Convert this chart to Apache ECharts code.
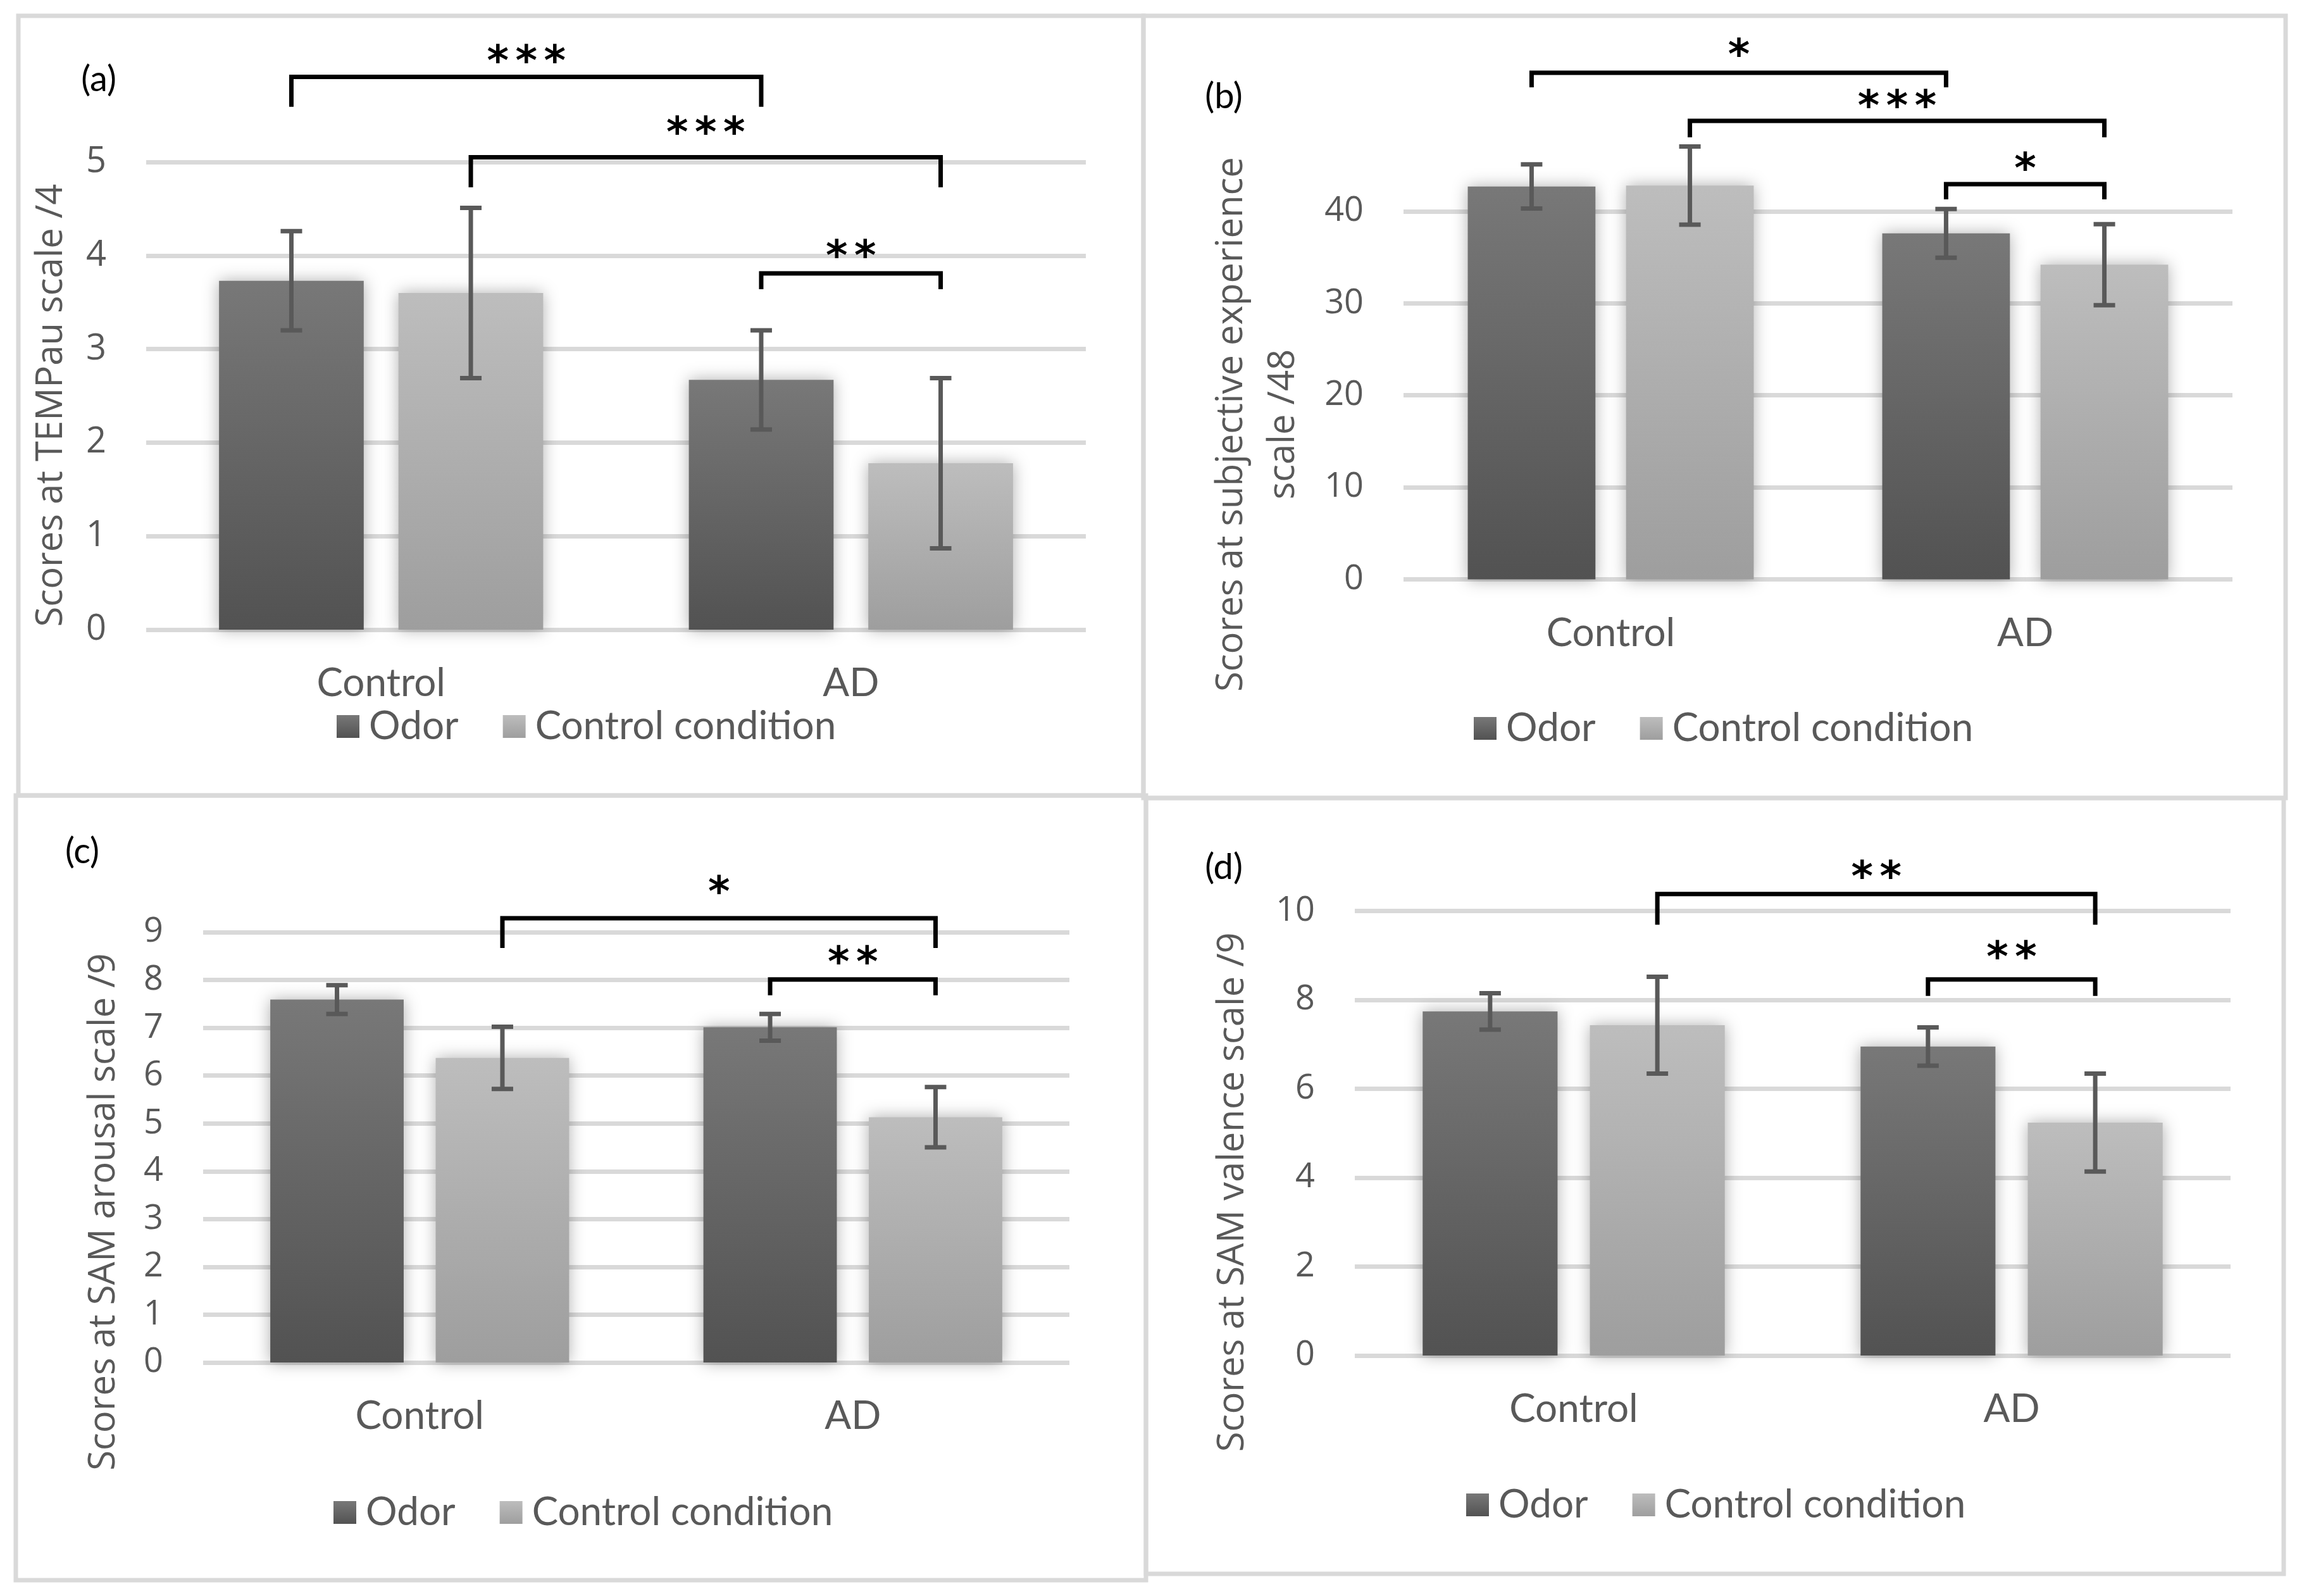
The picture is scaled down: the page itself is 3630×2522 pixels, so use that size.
<!DOCTYPE html>
<html><head><meta charset="utf-8">
<script src="https://cdn.jsdelivr.net/npm/echarts@6/dist/echarts.min.js"></script>
<style>html,body{margin:0;padding:0;background:#fff}#c{width:3630px;height:2522px}</style>
</head><body><div id="c"></div>
<script>
// ---------------- data ----------------
const categories = ['Control', 'AD'];
const seriesNames = ['Odor', 'Control condition'];
const panelLabels = ['(a)', '(b)', '(c)', '(d)'];
const yTitles = ['Scores at TEMPau scale /4', 'Scores at subjective experience\nscale /48', 'Scores at SAM arousal scale /9', 'Scores at SAM valence scale /9'];
const yMax = [5, 48, 9, 10];
const yInterval = [1, 10, 1, 2];

// (a) TEMPau
const odorA = [3.73, 2.67];
const condA = [3.60, 1.78];
const odorErrA = [0.53, 0.53];
const condErrA = [0.91, 0.91];
// (b) subjective experience
const odorB = [42.7, 37.6];
const condB = [42.8, 34.2];
const odorErrB = [2.4, 2.65];
const condErrB = [4.25, 4.4];
// (c) SAM arousal
const odorC = [7.59, 7.01];
const condC = [6.37, 5.13];
const odorErrC = [0.30, 0.28];
const condErrC = [0.65, 0.63];
// (d) SAM valence
const odorD = [7.74, 6.95];
const condD = [7.43, 5.24];
const odorErrD = [0.41, 0.43];
const condErrD = [1.09, 1.10];

// significance brackets: [fromCat, fromSeries, toCat, toSeries, lineY, legEndY, starY]
const bracketsA = [[0, 0, 1, 0, 5.91, 5.59, 6.15], [0, 1, 1, 1, 5.05, 4.73, 5.39], [1, 0, 1, 1, 3.81, 3.64, 4.07]];
const starsA = ['***', '***', '**'];
const bracketsB = [[0, 0, 1, 0, 55.05, 53.47, 57.74], [0, 1, 1, 1, 49.83, 48.04, 52.17], [1, 0, 1, 1, 42.95, 41.30, 45.36]];
const starsB = ['*', '***', '*'];
const bracketsC = [[0, 1, 1, 1, 9.29, 8.67, 9.98], [1, 0, 1, 1, 8.01, 7.68, 8.51]];
const starsC = ['*', '**'];
const bracketsD = [[0, 1, 1, 1, 10.38, 9.69, 10.92], [1, 0, 1, 1, 8.46, 8.09, 9.12]];
const starsD = ['**', '**'];

// ---------------- layout / style ----------------
const panels = [
  { odor: odorA, cond: condA, odorErr: odorErrA, condErr: condErrA, br: bracketsA, st: starsA,
    grid: { left: 231, top: 256, width: 1485, height: 739 },
    border: [29, 25, 1778, 1232], label: [156, 126], legend: [532, 1147],
    nameGap: 115, nameLH: 70, nameShift: 15, tickFs: 56 },
  { odor: odorB, cond: condB, odorErr: odorErrB, condErr: condErrB, br: bracketsB, st: starsB,
    grid: { left: 2218, top: 217.6, width: 1310, height: 697.9 },
    border: [1807, 25, 1805, 1236], label: [1934, 153], legend: [2329, 1150],
    nameGap: 149, nameLH: 82, nameShift: 104, tickFs: 54 },
  { odor: odorC, cond: condC, odorErr: odorErrC, condErr: condErrC, br: bracketsC, st: starsC,
    grid: { left: 321, top: 1473, width: 1369, height: 680 },
    border: [25, 1257, 1786, 1240], label: [130, 1346], legend: [527, 2389],
    nameGap: 122, nameLH: 70, nameShift: 102, tickFs: 54 },
  { odor: odorD, cond: condD, odorErr: odorErrD, condErr: condErrD, br: bracketsD, st: starsD,
    grid: { left: 2141, top: 1439.5, width: 1384, height: 702.5 },
    border: [1811, 1261, 1798, 1226], label: [1934, 1371], legend: [2317, 2377],
    nameGap: 158, nameLH: 70, nameShift: 93, tickFs: 54 }
];

const BAR_W = 0.308;
const BAR_GAP = 0.24;
const SIDE_OFF = (BAR_W + BAR_W * BAR_GAP) / 2;
const GRID_COLOR = '#D9D9D9';
const TEXT_COLOR = '#595959';
const ERR_COLOR = '#595959';
const STAR_FS = 66;
const STAR_STEP = 45;

const gradOdor = { type: 'linear', x: 0, y: 0, x2: 0, y2: 1, colorStops: [{ offset: 0, color: '#787878' }, { offset: 1, color: '#525252' }] };
const gradCond = { type: 'linear', x: 0, y: 0, x2: 0, y2: 1, colorStops: [{ offset: 0, color: '#BDBDBD' }, { offset: 1, color: '#9E9E9E' }] };

function sideOff(s) { return (s === 0 ? -1 : 1) * SIDE_OFF; }

function errRender(params, api) {
  const cat = api.value(0), side = api.value(1), m = api.value(2), e = api.value(3);
  const bw = api.size([1, 0])[0];
  const top = api.coord([cat, m + e]);
  const bot = api.coord([cat, m - e]);
  const x = top[0] + sideOff(side) * bw;
  const cap = 17;
  const st = { stroke: ERR_COLOR, lineWidth: 7, fill: 'none' };
  return { type: 'group', children: [
    { type: 'line', shape: { x1: x, y1: top[1], x2: x, y2: bot[1] }, style: st },
    { type: 'line', shape: { x1: x - cap, y1: top[1], x2: x + cap, y2: top[1] }, style: st },
    { type: 'line', shape: { x1: x - cap, y1: bot[1], x2: x + cap, y2: bot[1] }, style: st }
  ] };
}

function makeBrRender(labels) {
  return function (params, api) {
    const bw = api.size([1, 0])[0];
    const x1 = api.coord([api.value(0), 0])[0] + sideOff(api.value(1)) * bw;
    const x2 = api.coord([api.value(2), 0])[0] + sideOff(api.value(3)) * bw;
    const yL = api.coord([0, api.value(4)])[1];
    const yLeg = api.coord([0, api.value(5)])[1];
    const yS = api.coord([0, api.value(6)])[1];
    const children = [
      { type: 'polyline', shape: { points: [[x1, yLeg], [x1, yL], [x2, yL], [x2, yLeg]] },
        style: { stroke: '#000', lineWidth: 7, fill: 'none', lineJoin: 'miter' } }
    ];
    const txt = labels[params.dataIndex];
    const n = txt.length;
    const cx = (x1 + x2) / 2;
    for (let k = 0; k < n; k++) {
      children.push({ type: 'text', style: { text: txt.charAt(k), x: cx + (k - (n - 1) / 2) * STAR_STEP, y: yS + STAR_FS * 0.23,
        textAlign: 'center', textVerticalAlign: 'middle', align: 'center', verticalAlign: 'middle',
        fontFamily: 'DejaVu Sans', fontWeight: 'bold', fontSize: STAR_FS, fill: '#000' } });
    }
    return { type: 'group', children: children };
  };
}

const grids = [], xAxes = [], yAxes = [], series = [], legends = [], graphics = [];
panels.forEach(function (p, i) {
  grids.push(Object.assign({ containLabel: false, outerBoundsMode: 'none' }, p.grid));
  xAxes.push({ type: 'category', gridIndex: i, data: categories,
    axisLine: { show: false }, axisTick: { show: false }, splitLine: { show: false },
    axisLabel: { fontFamily: 'Lato', fontSize: 62, lineHeight: 62, color: TEXT_COLOR, margin: 54 } });
  yAxes.push({ type: 'value', gridIndex: i, min: 0, max: yMax[i], interval: yInterval[i],
    axisLine: { show: false }, axisTick: { show: false },
    splitLine: { show: true, showMaxLine: i !== 1, lineStyle: { color: GRID_COLOR, width: 7 } },
    axisLabel: { fontFamily: 'Open Sans', fontSize: p.tickFs, color: TEXT_COLOR, margin: 63,
      showMaxLabel: i !== 1, formatter: function (v) { return (v % yInterval[i] === 0) ? String(v) : ''; } },
    name: yTitles[i], nameLocation: 'middle', nameGap: p.nameGap, nameMoveOverlap: false,
    nameTextStyle: { fontFamily: 'Open Sans', fontSize: 58, color: TEXT_COLOR, lineHeight: p.nameLH,
      padding: [0, p.nameShift * 2, 0, 0] } });
  const common = { type: 'bar', xAxisIndex: i, yAxisIndex: i, barWidth: (BAR_W * 100) + '%', barGap: (BAR_GAP * 100) + '%',
    clip: false, z: 2, silent: true, emphasis: { disabled: true } };
  series.push(Object.assign({}, common, { name: seriesNames[0], data: p.odor,
    itemStyle: { color: gradOdor, shadowBlur: 24, shadowColor: 'rgba(0,0,0,0.32)' } }));
  series.push(Object.assign({}, common, { name: seriesNames[1], data: p.cond,
    itemStyle: { color: gradCond, shadowBlur: 24, shadowColor: 'rgba(0,0,0,0.32)' } }));
  const errData = [];
  for (let c = 0; c < categories.length; c++) {
    errData.push([c, 0, p.odor[c], p.odorErr[c]]);
    errData.push([c, 1, p.cond[c], p.condErr[c]]);
  }
  series.push({ type: 'custom', xAxisIndex: i, yAxisIndex: i, data: errData, renderItem: errRender,
    encode: { x: 0, y: 2 }, clip: false, z: 3, silent: true });
  series.push({ type: 'custom', xAxisIndex: i, yAxisIndex: i, data: p.br, renderItem: makeBrRender(p.st),
    encode: { x: 0, y: 4 }, clip: false, z: 4, silent: true });
  legends.push({ left: p.legend[0], top: p.legend[1] - 30, orient: 'horizontal', padding: 0,
    itemWidth: 36, itemHeight: 36, itemGap: 70, icon: 'rect', data: seriesNames, selectedMode: false,
    itemStyle: { shadowBlur: 0, borderWidth: 0 },
    textStyle: { fontFamily: 'Lato', fontSize: 62, color: TEXT_COLOR, padding: [0, 0, 0, 10] } });
  graphics.push({ type: 'rect', shape: { x: p.border[0], y: p.border[1], width: p.border[2], height: p.border[3] },
    style: { fill: 'none', stroke: GRID_COLOR, lineWidth: 7 }, z: 0, silent: true });
  graphics.push({ type: 'text', x: p.label[0], y: p.label[1], z: 10,
    style: { text: panelLabels[i], x: 0, y: 0, textAlign: 'center', textVerticalAlign: 'middle', align: 'center', verticalAlign: 'middle',
      fontFamily: 'Lato', fontSize: 56, fill: '#000' } });
});

const chart = echarts.init(document.getElementById('c'), null, { renderer: 'canvas' });
chart.setOption({
  backgroundColor: '#fff',
  animation: false,
  grid: grids, xAxis: xAxes, yAxis: yAxes, series: series, legend: legends, graphic: graphics
});
</script></body></html>
